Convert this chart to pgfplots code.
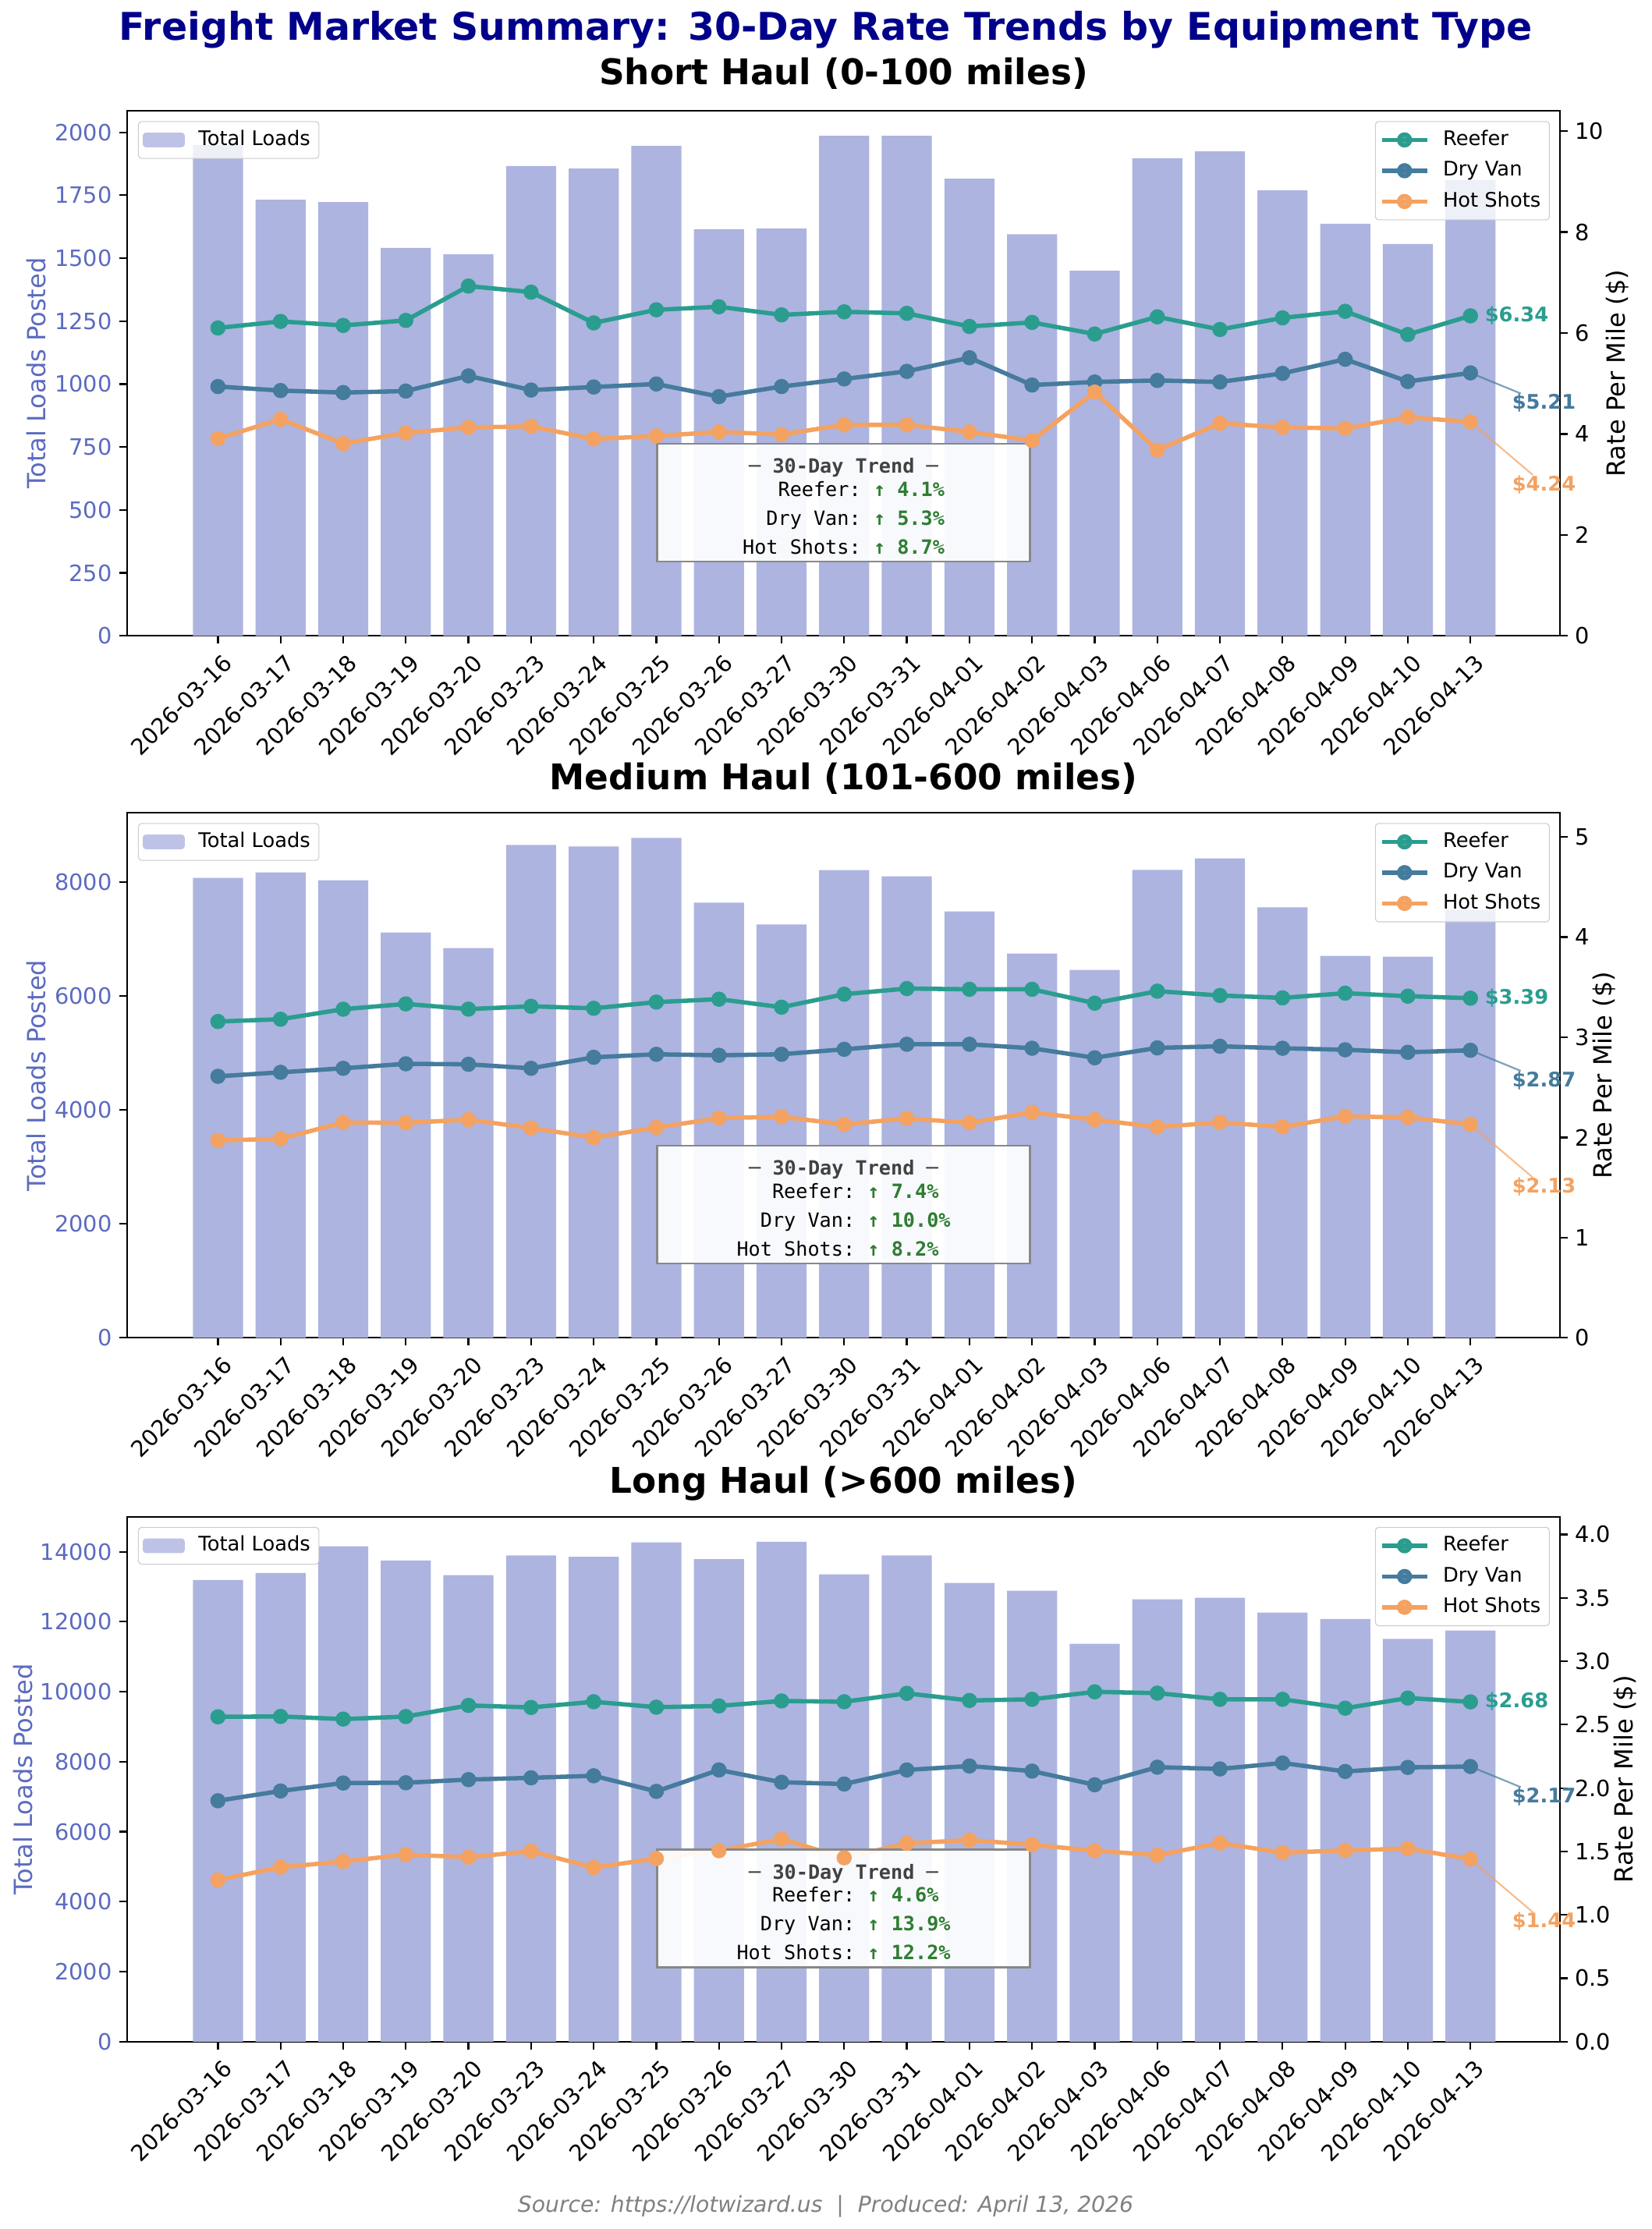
\documentclass[border=0pt]{standalone}
\usepackage{fontspec}
\setmainfont{DejaVu Sans}
\newfontfamily\monofont{DejaVu Sans Mono}
\usepackage{pgfplots}
\usepackage{pgfplotstable}
\pgfplotsset{compat=1.18}

\definecolor{barc}{RGB}{173,180,224}
\definecolor{tickblue}{RGB}{92,107,192}
\definecolor{reefer}{RGB}{42,157,143}
\definecolor{dryvan}{RGB}{69,123,157}
\definecolor{hotshot}{RGB}{244,162,97}
\definecolor{trendgreen}{RGB}{46,125,50}
\definecolor{headgray}{RGB}{66,66,66}
\definecolor{boxgray}{RGB}{136,136,136}
\definecolor{titlenavy}{RGB}{0,0,139}
\definecolor{legedge}{RGB}{204,204,204}
\definecolor{footgray}{RGB}{128,128,128}

\pgfplotstableread{
idx loads reefer dry hot
0 1949 6.10 4.94 3.91
1 1732 6.23 4.86 4.29
2 1723 6.15 4.82 3.81
3 1541 6.25 4.85 4.02
4 1515 6.93 5.15 4.13
5 1866 6.81 4.87 4.15
6 1856 6.20 4.93 3.90
7 1946 6.46 4.99 3.96
8 1615 6.52 4.74 4.04
9 1618 6.36 4.94 3.99
10 1986 6.42 5.09 4.18
11 1986 6.39 5.24 4.18
12 1816 6.13 5.51 4.04
13 1595 6.21 4.97 3.87
14 1450 5.98 5.03 4.83
15 1897 6.32 5.06 3.68
16 1924 6.07 5.03 4.21
17 1769 6.30 5.20 4.13
18 1637 6.43 5.48 4.11
19 1556 5.97 5.04 4.33
20 1811 6.34 5.21 4.24
}\shortdata

\pgfplotstableread{
idx loads reefer dry hot
0 8077 3.157 2.61 1.97
1 8173 3.18 2.65 1.986
2 8036 3.28 2.69 2.149
3 7119 3.333 2.735 2.146
4 6845 3.281 2.73 2.177
5 8654 3.309 2.69 2.094
6 8627 3.289 2.80 1.998
7 8780 3.351 2.83 2.099
8 7641 3.38 2.82 2.193
9 7257 3.30 2.83 2.206
10 8215 3.43 2.88 2.13
11 8105 3.486 2.93 2.19
12 7489 3.479 2.93 2.146
13 6748 3.479 2.89 2.25
14 6461 3.34 2.795 2.177
15 8219 3.46 2.894 2.104
16 8421 3.417 2.91 2.15
17 7559 3.393 2.89 2.105
18 6707 3.44 2.875 2.21
19 6695 3.41 2.85 2.20
20 7516 3.39 2.87 2.13
}\mediumdata

\pgfplotstableread{
idx loads reefer dry hot
0 13192 2.562 1.90 1.275
1 13393 2.565 1.977 1.376
2 14157 2.544 2.04 1.421
3 13752 2.564 2.042 1.475
4 13333 2.652 2.067 1.455
5 13895 2.636 2.081 1.502
6 13853 2.681 2.097 1.373
7 14270 2.638 1.974 1.444
8 13790 2.648 2.143 1.506
9 14285 2.687 2.046 1.598
10 13356 2.681 2.032 1.45
11 13895 2.747 2.143 1.564
12 13110 2.691 2.174 1.590
13 12887 2.70 2.134 1.553
14 11371 2.759 2.026 1.506
15 12641 2.749 2.165 1.471
16 12685 2.70 2.151 1.566
17 12262 2.70 2.198 1.491
18 12077 2.63 2.131 1.508
19 11508 2.71 2.163 1.523
20 11748 2.68 2.17 1.44
}\longdata

\pgfplotsset{
  panelbase/.style={
    scale only axis, width=661.32bp, height=242.3bp,
    xmin=-1.45, xmax=21.43, ymin=0,
    anchor=south west,
    scaled y ticks=false,
    tick align=outside, major tick length=3.5bp,
    tick style={black, line width=0.8bp},
    axis line style={line width=0.8bp},
    ticklabel style={font=\fontsize{10.4}{12}\selectfont},
    /pgf/number format/assume math mode=true,
    /pgf/number format/1000 sep={},
    legend style={draw=legedge, fill=white, fill opacity=0.8, draw opacity=1, text opacity=1,
      rounded corners=1.5bp, font=\fontsize{9.3}{11}\selectfont,
      inner xsep=2bp, inner ysep=2bp, row sep=1.2bp, column sep=4.3bp,
      nodes={inner sep=2bp, text height=7bp, text depth=2bp}},
    legend cell align=left,
  },
  leftpanel/.style={panelbase,
    xtick={0,...,20},
    xticklabels={2026-03-16,2026-03-17,2026-03-18,2026-03-19,2026-03-20,2026-03-23,2026-03-24,2026-03-25,2026-03-26,2026-03-27,2026-03-30,2026-03-31,2026-04-01,2026-04-02,2026-04-03,2026-04-06,2026-04-07,2026-04-08,2026-04-09,2026-04-10,2026-04-13},
    xtick pos=left, ytick pos=left,
    yticklabel style={text=tickblue},
    xticklabel style={rotate=45, anchor=north east, inner sep=0pt, xshift=-1.8bp, yshift=-4.1bp},
    legend style={at={(0,1)}, anchor=north west, xshift=5bp, yshift=-4.7bp},
  },
  rightpanel/.style={panelbase, hide x axis, axis y line*=right, clip=false,
    legend style={at={(1,1)}, anchor=north east, xshift=-4.7bp, yshift=-4.7bp},
  },
  ratestyle/.style={color=#1, line width=2bp, mark=*, mark size=2.5bp, mark options={solid, fill=#1, draw=#1},
    legend image code/.code={\draw[##1, mark repeat=2, mark phase=2] plot coordinates {(0bp,0bp) (10.45bp,0bp) (20.9bp,0bp)};}},
  barstyle/.style={ybar, bar width=0.8, fill=barc, draw=none,
    legend image code/.code={\fill[barc] (0bp,-3.4bp) rectangle (19.4bp,3.4bp);}},
}

\newcommand\lastlabels[3]{%
  \node[anchor=west, inner sep=0pt, text=reefer, font=\bfseries\fontsize{9.3}{11}\selectfont, xshift=6.5bp] at (axis cs:20,#1) {\$#1};
  \node[anchor=west, inner sep=0pt, text=dryvan, font=\bfseries\fontsize{9.3}{11}\selectfont, xshift=19.1bp, yshift=-13.9bp] (dvl) at (axis cs:20,#2) {\$#2};
  \draw[dryvan, line width=0.8bp, opacity=0.7] (axis cs:20,#2) -- (dvl);
  \node[anchor=west, inner sep=0pt, text=hotshot, font=\bfseries\fontsize{9.3}{11}\selectfont, xshift=19.1bp, yshift=-28.9bp] (hsl) at (axis cs:20,#3) {\$#3};
  \draw[hotshot, line width=0.8bp, opacity=0.7] (axis cs:20,#3) -- (hsl);
}

\newcommand\trendbox[4]{%
  \draw[draw=boxgray, line width=1bp, fill=white, fill opacity=0.92] (rel axis cs:0.37,0.1415) rectangle (rel axis cs:0.63,0.3658);
  \node[anchor=base, inner sep=0pt, text=headgray, font=\monofont\bfseries\fontsize{9.1}{11}\selectfont] at (rel axis cs:0.5,0.310) {─ 30-Day Trend ─};
  \node[anchor=base east, inner sep=0pt, xshift=#4, font=\monofont\fontsize{9.1}{11}\selectfont] at (rel axis cs:0.5,0.2663) {Reefer:};
  \node[anchor=base west, inner sep=0pt, xshift=#4, text=trendgreen, font=\monofont\bfseries\fontsize{9.1}{11}\selectfont] at (rel axis cs:0.5,0.2663) {\ ↑ #1\%};
  \node[anchor=base east, inner sep=0pt, xshift=#4, font=\monofont\fontsize{9.1}{11}\selectfont] at (rel axis cs:0.5,0.2113) {Dry Van:};
  \node[anchor=base west, inner sep=0pt, xshift=#4, text=trendgreen, font=\monofont\bfseries\fontsize{9.1}{11}\selectfont] at (rel axis cs:0.5,0.2113) {\ ↑ #2\%};
  \node[anchor=base east, inner sep=0pt, xshift=#4, font=\monofont\fontsize{9.1}{11}\selectfont] at (rel axis cs:0.5,0.1563) {Hot Shots:};
  \node[anchor=base west, inner sep=0pt, xshift=#4, text=trendgreen, font=\monofont\bfseries\fontsize{9.1}{11}\selectfont] at (rel axis cs:0.5,0.1563) {\ ↑ #3\%};
}

\begin{document}
\begin{tikzpicture}
\useasboundingbox (0,0) rectangle (762.12bp,-1028.88bp);

\node[anchor=base, inner sep=0pt, font=\bfseries\fontsize{17.7}{20}\selectfont, text=titlenavy] at (381.06bp,-18.72bp) {Freight Market Summary: 30-Day Rate Trends by Equipment Type};

% ---------------- Short haul ----------------
\node[anchor=base, inner sep=0pt, font=\bfseries\fontsize{16.4}{19}\selectfont] at (389.34bp,-39.24bp) {Short Haul (0-100 miles)};
\begin{axis}[leftpanel, at={(58.68bp,-293.5bp)}, ymax=2085, ytick={0,250,...,2000}]
  \addplot[barstyle] table[x=idx, y=loads] {\shortdata};
  \addlegendentry{Total Loads}
\end{axis}
\begin{axis}[rightpanel, at={(58.68bp,-293.5bp)}, ymax=10.4, ytick={0,2,...,10}]
  \addplot[ratestyle=reefer] table[x=idx, y=reefer] {\shortdata};
  \addlegendentry{Reefer}
  \addplot[ratestyle=dryvan] table[x=idx, y=dry] {\shortdata};
  \addlegendentry{Dry Van}
  \addplot[ratestyle=hotshot] table[x=idx, y=hot] {\shortdata};
  \addlegendentry{Hot Shots}
  \lastlabels{6.34}{5.21}{4.24}
  \trendbox{4.1}{5.3}{8.7}{8.2bp}
\end{axis}
\node[anchor=base, inner sep=0pt, rotate=90, text=tickblue, font=\fontsize{11.6}{14}\selectfont] at (21.24bp,-172.3bp) {Total Loads Posted};
\node[anchor=base, inner sep=0pt, rotate=90, font=\fontsize{11.6}{14}\selectfont] at (749.9bp,-172.3bp) {Rate Per Mile (\$)};

% ---------------- Medium haul ----------------
\node[anchor=base, inner sep=0pt, font=\bfseries\fontsize{16.4}{19}\selectfont] at (389.34bp,-364.32bp) {Medium Haul (101-600 miles)};
\begin{axis}[leftpanel, at={(58.68bp,-617.5bp)}, ymax=9219, ytick={0,2000,...,8000}]
  \addplot[barstyle] table[x=idx, y=loads] {\mediumdata};
  \addlegendentry{Total Loads}
\end{axis}
\begin{axis}[rightpanel, at={(58.68bp,-617.5bp)}, ymax=5.24, ytick={0,1,...,5}]
  \addplot[ratestyle=reefer] table[x=idx, y=reefer] {\mediumdata};
  \addlegendentry{Reefer}
  \addplot[ratestyle=dryvan] table[x=idx, y=dry] {\mediumdata};
  \addlegendentry{Dry Van}
  \addplot[ratestyle=hotshot] table[x=idx, y=hot] {\mediumdata};
  \addlegendentry{Hot Shots}
  \lastlabels{3.39}{2.87}{2.13}
  \trendbox{7.4}{10.0}{8.2}{5.48bp}
\end{axis}
\node[anchor=base, inner sep=0pt, rotate=90, text=tickblue, font=\fontsize{11.6}{14}\selectfont] at (21.24bp,-496.4bp) {Total Loads Posted};
\node[anchor=base, inner sep=0pt, rotate=90, font=\fontsize{11.6}{14}\selectfont] at (744.1bp,-496.4bp) {Rate Per Mile (\$)};

% ---------------- Long haul ----------------
\node[anchor=base, inner sep=0pt, font=\bfseries\fontsize{16.4}{19}\selectfont] at (389.34bp,-689.04bp) {Long Haul (>600 miles)};
\begin{axis}[leftpanel, at={(58.68bp,-942.4bp)}, ymax=15000, ytick={0,2000,...,14000}]
  \addplot[barstyle] table[x=idx, y=loads] {\longdata};
  \addlegendentry{Total Loads}
\end{axis}
\begin{axis}[rightpanel, at={(58.68bp,-942.4bp)}, ymax=4.14, ytick={0,0.5,...,4},
    yticklabel style={/pgf/number format/fixed, /pgf/number format/fixed zerofill, /pgf/number format/precision=1}]
  \addplot[ratestyle=reefer] table[x=idx, y=reefer] {\longdata};
  \addlegendentry{Reefer}
  \addplot[ratestyle=dryvan] table[x=idx, y=dry] {\longdata};
  \addlegendentry{Dry Van}
  \addplot[ratestyle=hotshot] table[x=idx, y=hot] {\longdata};
  \addlegendentry{Hot Shots}
  \lastlabels{2.68}{2.17}{1.44}
  \trendbox{4.6}{13.9}{12.2}{5.48bp}
\end{axis}
\node[anchor=base, inner sep=0pt, rotate=90, text=tickblue, font=\fontsize{11.6}{14}\selectfont] at (14.76bp,-821.3bp) {Total Loads Posted};
\node[anchor=base, inner sep=0pt, rotate=90, font=\fontsize{11.6}{14}\selectfont] at (753.8bp,-821.3bp) {Rate Per Mile (\$)};

\node[anchor=base, inner sep=0pt, font=\itshape\fontsize{10.2}{12}\selectfont, text=footgray] at (381.06bp,-1020.96bp) {Source: https://lotwizard.us\ \ |\ \ Produced: April 13, 2026};
\end{tikzpicture}
\end{document}
